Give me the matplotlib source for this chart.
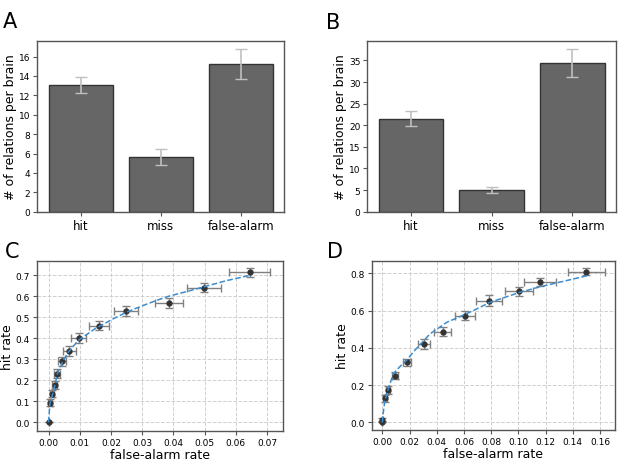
#!/usr/bin/env python3

import numpy as np
import matplotlib
matplotlib.use("Agg")
import matplotlib.pyplot as plt

# bar panels
categories = ["hit", "miss", "false-alarm"]
a_vals = [13.1, 5.63, 15.24]
a_err = [0.83, 0.8, 1.55]
b_vals = [21.5, 5.0, 34.45]
b_err = [1.75, 0.7, 3.23]

# ROC points, panel C
c_far = [0.0, 0.0004, 0.0012, 0.002, 0.0027, 0.0044, 0.0067, 0.0097, 0.0161, 0.0248, 0.0385, 0.0498, 0.0644]
c_hit = [0.0, 0.094, 0.137, 0.178, 0.232, 0.291, 0.339, 0.401, 0.460, 0.531, 0.569, 0.641, 0.714]
c_far_err = [0.0, 0.0006, 0.0007, 0.0008, 0.0009, 0.0013, 0.002, 0.0024, 0.0032, 0.0037, 0.0045, 0.0053, 0.0066]
c_hit_err = [0.0, 0.016, 0.018, 0.02, 0.021, 0.022, 0.024, 0.024, 0.021, 0.024, 0.024, 0.022, 0.022]
c_fit_x = [0, 0.0004, 0.0013, 0.002, 0.0028, 0.0044, 0.0063, 0.0095, 0.0148, 0.0207, 0.025, 0.030,
           0.035, 0.0383, 0.044, 0.0496, 0.057, 0.0644]
c_fit_y = [0, 0.087, 0.135, 0.175, 0.23, 0.286, 0.334, 0.39, 0.445, 0.493, 0.525, 0.555,
           0.583, 0.60, 0.622, 0.645, 0.675, 0.70]

# ROC points, panel D
d_far = [0.0, 0.0001, 0.002, 0.0042, 0.0091, 0.0181, 0.0306, 0.0444, 0.061, 0.0787, 0.1007, 0.1157, 0.1498]
d_hit = [0.0, 0.015, 0.129, 0.172, 0.251, 0.322, 0.421, 0.487, 0.573, 0.653, 0.703, 0.754, 0.809]
d_far_err = [0.0, 0.0005, 0.0012, 0.0017, 0.0022, 0.0028, 0.0045, 0.0061, 0.0074, 0.0096, 0.0103, 0.0119, 0.0137]
d_hit_err = [0.0, 0.01, 0.02, 0.022, 0.018, 0.02, 0.027, 0.025, 0.026, 0.029, 0.025, 0.022, 0.02]
d_fit_x = [0, 0.001, 0.002, 0.0044, 0.008, 0.013, 0.018, 0.023, 0.030, 0.035, 0.0444, 0.0473,
           0.054, 0.0669, 0.079, 0.101, 0.116, 0.1503]
d_fit_y = [0, 0.07, 0.12, 0.18, 0.26, 0.30, 0.335, 0.38, 0.435, 0.475, 0.522, 0.537,
           0.558, 0.600, 0.644, 0.698, 0.728, 0.787]

SPINE = "#555555"


def style_axes(ax):
    for s in ax.spines.values():
        s.set_color(SPINE)
        s.set_linewidth(1.0)
    ax.tick_params(axis="both", labelsize=6.5, length=3, width=0.8, color=SPINE, pad=2)


def plot_bars(ax, vals, err):
    style_axes(ax)
    x = np.arange(len(categories))
    ax.bar(x, vals, width=0.8, color="#666666", edgecolor="#333333", linewidth=1.0,
           yerr=err, error_kw=dict(ecolor="#c0c0c0", elinewidth=1.2, capsize=4, capthick=1.0))
    ax.set_xticks(x)
    ax.set_xticklabels(categories, fontsize=8.5)
    ax.set_ylabel("# of relations per brain", fontsize=9, labelpad=1)


def plot_roc(ax, fx, fy, fxe, fye, fitx, fity):
    style_axes(ax)
    ax.grid(True, color="#d0d0d0", linestyle="--", linewidth=0.7)
    ax.set_axisbelow(True)
    ax.errorbar(fx, fy, xerr=fxe, yerr=fye, fmt="o", color="#333333", ms=3.5,
                ecolor="#808080", elinewidth=1.0, capsize=3, capthick=1.0, zorder=2)
    ax.plot(fitx, fity, "--", color="#3a8ccf", lw=1.1, zorder=3)
    ax.set_xlabel("false-alarm rate", fontsize=9, labelpad=1)
    ax.set_ylabel("hit rate", fontsize=9, labelpad=1)


if __name__ == "__main__":
    fig = plt.figure(figsize=(6.23, 4.64), dpi=100)

    axA = fig.add_axes([0.0599, 0.5416, 0.3964, 0.3685])
    plot_bars(axA, a_vals, a_err)

    axB = fig.add_axes([0.5896, 0.5416, 0.3992, 0.3685])
    plot_bars(axB, b_vals, b_err)

    axC = fig.add_axes([0.0594, 0.0696, 0.3944, 0.3664])
    plot_roc(axC, c_far, c_hit, c_far_err, c_hit_err, c_fit_x, c_fit_y)
    axC.set_xlim(-0.0037, 0.075)
    axC.set_ylim(-0.04, 0.77)
    axC.set_yticks(np.arange(0, 0.71, 0.1))

    axD = fig.add_axes([0.5966, 0.0711, 0.3906, 0.3649])
    plot_roc(axD, d_far, d_hit, d_far_err, d_hit_err, d_fit_x, d_fit_y)
    axD.set_xlim(-0.0078, 0.171)
    axD.set_ylim(-0.041, 0.868)
    axD.set_xticks(np.arange(0, 0.161, 0.02))

    for lbl, x, y in [("A", 0.004, 0.975), ("B", 0.523, 0.972), ("C", 0.008, 0.478), ("D", 0.525, 0.478)]:
        fig.text(x, y, lbl, fontsize=15, va="top", ha="left")

    plt.savefig("out.png", dpi=100)
